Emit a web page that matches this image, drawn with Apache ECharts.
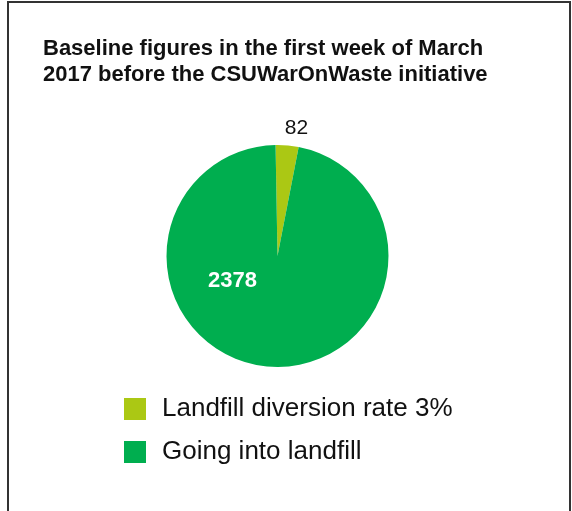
<!DOCTYPE html>
<html>
<head>
<meta charset="utf-8">
<script src="https://cdn.jsdelivr.net/npm/echarts@6/dist/echarts.min.js"></script>
<style>
  html, body { margin: 0; padding: 0; background: #fff; }
  #chart { width: 572px; height: 511px; }
</style>
</head>
<body>
<div id="chart"></div>
<script>
// Waste figures, first week of March 2017
const categories = ['Landfill diversion rate 3%', 'Going into landfill'];
const values = [82, 2378];
const colors = ['#abc814', '#00ae4f'];

const chart = echarts.init(document.getElementById('chart'));

const data = categories.map((name, i) => ({
  name: name,
  value: values[i],
  itemStyle: { color: colors[i] }
}));
// diverted slice: value shown above the pie
data[0].label = {
  position: 'outside',
  color: '#111',
  fontSize: 21,
  fontWeight: 'normal',
  offset: [-8, -11]
};
data[0].labelLine = { show: false, length: 6, length2: 0 };
// landfill slice: value shown inside, bold white
data[1].label = {
  position: 'inside',
  color: '#fff',
  fontSize: 22,
  fontWeight: 'bold',
  offset: [-40, -33]
};

chart.setOption({
  animation: false,
  backgroundColor: '#fff',
  title: {
    text: 'Baseline figures in the first week of March\n2017 before the CSUWarOnWaste initiative',
    left: 38,
    top: 31,
    textStyle: {
      fontFamily: 'Liberation Sans, Arial, sans-serif',
      fontSize: 22,
      fontWeight: 'bold',
      color: '#111',
      lineHeight: 26
    }
  },
  legend: {
    orient: 'vertical',
    left: 119,
    top: 391,
    itemWidth: 22,
    itemHeight: 22,
    itemGap: 17,
    icon: 'rect',
    selectedMode: false,
    data: categories,
    textStyle: {
      fontFamily: 'Liberation Sans, Arial, sans-serif',
      fontSize: 26,
      lineHeight: 22,
      color: '#111',
      padding: [0, 0, 0, 11]
    }
  },
  graphic: [{
    type: 'rect',
    z: -10,
    silent: true,
    shape: { x: 8, y: 2, width: 562, height: 530 },
    style: { fill: 'none', stroke: '#333', lineWidth: 2 }
  }],
  series: [{
    type: 'pie',
    center: [277.5, 256],
    radius: [0, 111],
    startAngle: 91,
    clockwise: true,
    avoidLabelOverlap: false,
    label: {
      show: true,
      formatter: '{c}',
      fontFamily: 'Liberation Sans, Arial, sans-serif'
    },
    itemStyle: { borderWidth: 0 },
    emphasis: { disabled: true },
    data: data
  }]
});
</script>
</body>
</html>
